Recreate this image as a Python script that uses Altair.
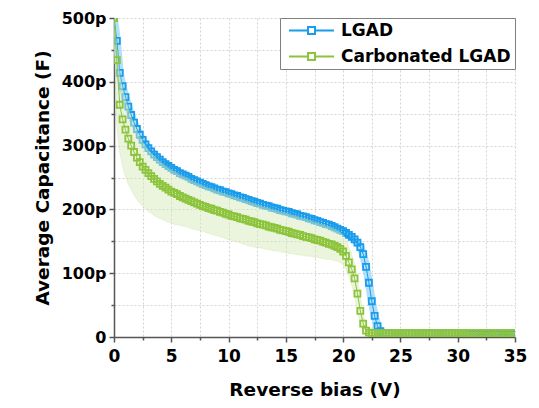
import altair as alt
import pandas as pd

# Reverse bias sweep (V), 0.25 V steps from 0 to 35 V
voltage = [round(i * 0.25, 2) for i in range(141)]

# LGAD mean capacitance (pF)
lgad = [
    500, 464, 414, 393, 376, 361, 348, 336, 326, 317, 309, 302, 296, 291, 286, 282, 278, 274, 271, 268,
    265, 262, 260, 257, 255, 253, 251, 248, 246, 244, 242, 240, 238, 236, 235, 233, 231, 230, 228, 227,
    225, 224, 222, 221, 219, 218, 216, 215, 213, 212, 210, 209, 207, 206, 205, 203, 202, 201, 199, 198,
    197, 196, 194, 193, 192, 190, 189, 188, 186, 185, 183, 182, 180, 179, 177, 176, 174, 172, 170, 168,
    166, 163, 160, 157, 153, 148, 141, 130, 110, 85, 56, 33, 17, 9, 6, 5, 5, 5, 5, 5,
    5, 5, 5, 5, 5, 5, 5, 5, 5, 5, 5, 5, 5, 5, 5, 5, 5, 5, 5, 5,
    5, 5, 5, 5, 5, 5, 5, 5, 5, 5, 5, 5, 5, 5, 5, 5, 5, 5, 5, 5,
    5,
]

# Carbonated LGAD mean capacitance (pF)
carb = [
    500, 434, 364, 341, 325, 311, 300, 290, 281, 274, 267, 262, 257, 252, 248, 244, 240, 237, 234, 231,
    228, 226, 224, 221, 219, 217, 215, 213, 211, 209, 207, 205, 204, 202, 201, 199, 198, 196, 195, 193,
    192, 190, 189, 188, 186, 185, 184, 182, 181, 180, 178, 177, 176, 175, 173, 172, 171, 170, 168, 167,
    166, 165, 163, 162, 161, 160, 158, 157, 156, 155, 153, 152, 151, 149, 148, 146, 145, 143, 141, 138,
    134, 127, 117, 106, 92, 68, 41, 21, 10, 7, 6, 6, 6, 6, 6, 6, 6, 6, 6, 6,
    6, 6, 6, 6, 6, 6, 6, 6, 6, 6, 6, 6, 6, 6, 6, 6, 6, 6, 6, 6,
    6, 6, 6, 6, 6, 6, 6, 6, 6, 6, 6, 6, 6, 6, 6, 6, 6, 6, 6, 6,
    6,
]

# Carbonated LGAD spread band: lower and upper edges (pF)
carb_lo = [
    480, 330, 290, 268, 252, 240, 231, 223, 216, 210, 205, 201, 197, 194, 191, 188, 186, 184, 182, 180,
    179, 177, 176, 175, 174, 173, 172, 170, 169, 168, 167, 166, 164, 163, 161, 160, 159, 157, 156, 154,
    153, 152, 150, 149, 148, 146, 145, 143, 142, 141, 140, 140, 139, 138, 137, 136, 135, 135, 134, 133,
    132, 131, 131, 130, 129, 129, 128, 127, 127, 126, 125, 125, 124, 123, 122, 122, 121, 120, 119, 117,
    113, 106, 96, 82, 64, 42, 22, 8, 3, 2, 2, 2, 2, 2, 2, 2, 2, 2, 2, 2,
    2, 2, 2, 2, 2, 2, 2, 2, 2, 2, 2, 2, 2, 2, 2, 2, 2, 2, 2, 2,
    2, 2, 2, 2, 6, 6, 6, 6, 6, 6, 6, 6, 6, 6, 6, 6, 6, 6, 6, 6,
    6,
]
carb_hi = [
    500, 455, 411, 390, 373, 358, 345, 333, 323, 314, 306, 299, 293, 288, 283, 279, 275, 271, 268, 265,
    262, 259, 257, 254, 252, 250, 248, 245, 243, 241, 239, 237, 235, 233, 232, 230, 228, 227, 225, 224,
    222, 221, 219, 218, 216, 215, 213, 212, 210, 209, 207, 206, 204, 203, 202, 200, 199, 198, 196, 195,
    194, 193, 191, 190, 189, 187, 186, 185, 183, 182, 180, 179, 177, 176, 174, 173, 171, 169, 167, 164,
    160, 152, 141, 129, 115, 92, 62, 36, 19, 13, 11, 10, 10, 10, 10, 10, 10, 10, 10, 10,
    10, 10, 10, 10, 10, 10, 10, 10, 10, 10, 10, 10, 10, 10, 10, 10, 10, 10, 10, 10,
    10, 10, 10, 10, 6, 6, 6, 6, 6, 6, 6, 6, 6, 6, 6, 6, 6, 6, 6, 6,
    6,
]

series_names = ["LGAD", "Carbonated LGAD"]
series_colors = ["#1A9CEC", "#8CC43C"]
x_ticks = [0, 2.5, 5, 7.5, 10, 12.5, 15, 17.5, 20, 22.5, 25, 27.5, 30, 32.5, 35]
y_ticks = [0, 50, 100, 150, 200, 250, 300, 350, 400, 450, 500]

for arr in (lgad, carb, carb_lo, carb_hi):
    assert len(arr) == len(voltage), len(arr)

wide = pd.DataFrame({"V": voltage, "lgad": lgad, "carb": carb, "lo": carb_lo, "hi": carb_hi})
long = pd.concat([
    pd.DataFrame({"V": voltage, "C": lgad, "series": series_names[0]}),
    pd.DataFrame({"V": voltage, "C": carb, "series": series_names[1]}),
], ignore_index=True)

FONT = "DejaVu Sans"
AX = "#555555"

xaxis = alt.Axis(
    values=x_ticks,
    labelExpr="datum.value % 5 === 0 ? datum.label : ''",
    tickSize={"condition": {"test": "datum.value % 5 === 0", "value": 5}, "value": 3},
    labelFlush=False, labelPadding=6, titlePadding=16, labelFontSize=17,
    grid=True, gridDash=[2, 2], gridColor="#d3d3d3", gridWidth=1,
    domainColor=AX, domainWidth=1.5, tickColor=AX, tickWidth=1.5,
)
yaxis = alt.Axis(
    values=y_ticks,
    labelExpr="datum.value % 100 === 0 ? (datum.value === 0 ? '0' : datum.value + 'p') : ''",
    tickSize={"condition": {"test": "datum.value % 100 === 0", "value": 5}, "value": 3},
    labelFlush=False, labelPadding=3, titlePadding=9, labelFontSize=16,
    grid=True, gridDash=[2, 2], gridColor="#d3d3d3", gridWidth=1,
    domainColor=AX, domainWidth=1.5, tickColor=AX, tickWidth=1.5,
)
xs = alt.Scale(domain=[0, 35], nice=False, zero=False)
ys = alt.Scale(domain=[0, 500], nice=False)

XT = "Reverse bias (V)"
YT = "Average Capacitance (F)"

legend_path = "M-1,0L4.43,0M4.43,-1L6.43,-1L6.43,1L4.43,1ZM6.43,0L11.86,0"
color = alt.Color(
    "series:N",
    scale=alt.Scale(domain=series_names, range=series_colors),
    legend=alt.Legend(
        title=None, orient="top-right", offset=0, symbolType=legend_path, symbolSize=49,
        symbolStrokeWidth=2, labelFont=FONT, labelFontSize=17, labelFontWeight="bold",
        labelColor="black", labelOffset=40, labelLimit=400, padding=4, rowPadding=8,
        strokeColor="#808080", fillColor="white", cornerRadius=0,
    ),
)

blue_band = alt.Chart(wide).mark_line(color="#9fd8f6", strokeWidth=8, opacity=0.8, clip=True).encode(
    x=alt.X("V:Q", scale=xs, axis=xaxis, title=XT),
    y=alt.Y("lgad:Q", scale=ys, axis=yaxis, title=YT),
)

def series_layer(name):
    return alt.Chart(long).transform_filter(alt.datum.series == name).mark_line(
        strokeWidth=1, clip=True,
        point=alt.OverlayMarkDef(shape="square", filled=False, size=36, strokeWidth=1.8, clip=True),
    ).encode(
        x=alt.X("V:Q", scale=xs, axis=xaxis, title=XT),
        y=alt.Y("C:Q", scale=ys, axis=yaxis, title=YT),
        color=color,
    )

green_band = alt.Chart(wide).mark_area(
    color="#d8ebbb", opacity=0.5, stroke="#c4e0a0", strokeWidth=0.8, clip=True
).encode(
    x=alt.X("V:Q", scale=xs, axis=xaxis, title=XT),
    y=alt.Y("lo:Q", scale=ys, axis=yaxis, title=YT),
    y2="hi:Q",
)

chart = alt.layer(
    blue_band, series_layer("LGAD"), green_band, series_layer("Carbonated LGAD")
).properties(
    width=401, height=319,
    padding={"left": 106, "top": 10, "right": 15, "bottom": 63},
    autosize=alt.AutoSizeParams(type="none"),
).configure_view(stroke=None).configure_axis(
    labelFont=FONT, labelFontWeight="bold", labelColor="black",
    titleFont=FONT, titleFontSize=18.5, titleFontWeight="bold", titleColor="black",
)

chart.save("out.html", embed_options={"renderer": "svg", "actions": False})
